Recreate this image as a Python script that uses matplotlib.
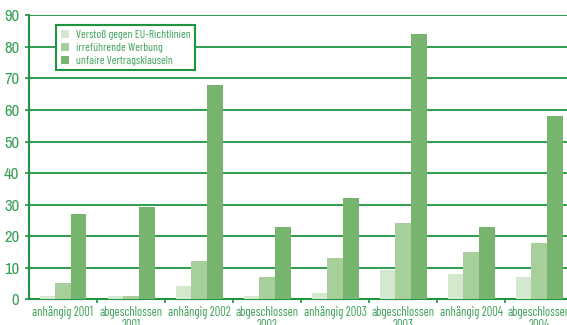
import numpy as np
import matplotlib.pyplot as plt

# Categories and series values
categories = ['anhängig 2001', 'abgeschlossen\n2001', 'anhängig 2002', 'abgeschlossen\n2002',
              'anhängig 2003', 'abgeschlossen\n2003', 'anhängig 2004', 'abgeschlossen\n2004']
series_names = ['Verstoß gegen EU-Richtlinien', 'irreführende Werbung', 'unfaire Vertragsklauseln']
y_ticks = list(range(0, 91, 10))
eu_richtlinien = [1, 1, 4.3, 1, 2, 9.3, 8, 7]
werbung = [5.2, 1, 12.2, 7.1, 13, 24.2, 15, 18]
vertragsklauseln = [27, 29.3, 68, 23, 32, 84, 23, 58]

colors = ['#d4e8d0', '#a6cf9c', '#77b46e']
green = '#1f9440'
text_green = '#3aa055'

plt.rcParams['font.family'] = ['Barlow Condensed', 'DejaVu Sans']

fig = plt.figure(figsize=(5.67, 3.25), dpi=100)
ax = fig.add_axes([0.0511, 0.0785, 0.96, 0.875])

x = np.arange(len(categories))
w = 0.23
for i, (vals, name) in enumerate(zip([eu_richtlinien, werbung, vertragsklauseln], series_names)):
    ax.bar(x + (i - 1) * w, vals, width=w, color=colors[i], label=name, zorder=3)

ax.set_xlim(-0.5, len(categories) - 0.5)
ax.set_ylim(0, 90)
ax.set_yticks(y_ticks, labels=[str(v) for v in y_ticks],
              fontfamily=['Archivo Narrow', 'DejaVu Sans'], fontsize=12, color=text_green)
ax.yaxis.grid(True, color=green, linewidth=1.3, zorder=1)
ax.set_axisbelow(True)

for s in ['top', 'right']:
    ax.spines[s].set_visible(False)
for s in ['left', 'bottom']:
    ax.spines[s].set_color(green)
    ax.spines[s].set_linewidth(1.5)

ax.set_xticks(x)
ax.set_xticklabels(categories, fontsize=9, color=text_green, linespacing=0.95)
ax.set_xticks(np.arange(0.5, len(categories) - 0.5, 1), minor=True)
ax.tick_params(axis='x', which='major', length=0, pad=5)
ax.tick_params(axis='x', which='minor', length=3, width=1.2, color=green)
ax.tick_params(axis='y', length=3, width=1.2, color=green, pad=4)

leg = ax.legend(loc='upper left', bbox_to_anchor=(0.05, 0.965), borderaxespad=0, fontsize=8.3,
                frameon=True, fancybox=False, handlelength=0.7, handleheight=0.7,
                handletextpad=0.6, borderpad=0.4, labelspacing=0.25, labelcolor=text_green)
leg.get_frame().set_edgecolor(green)
leg.get_frame().set_linewidth(1.5)
leg.get_frame().set_alpha(1)

fig.savefig('out.png', dpi=100)
